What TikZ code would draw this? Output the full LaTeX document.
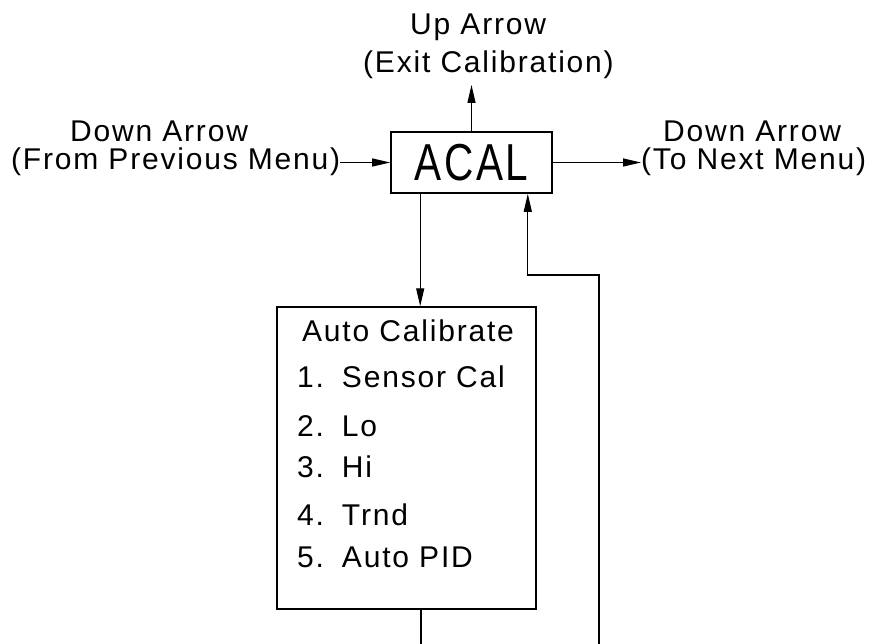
\documentclass[tikz,border=0pt]{standalone}
\usepackage{fontspec}
\setmainfont[LetterSpace=6]{Liberation Sans}
\usetikzlibrary{arrows.meta}
\tikzset{
  lbl/.style={inner sep=0pt, anchor=base west, font=\fontsize{30}{30}\selectfont},
  conn/.style={line width=1.2pt, -{Triangle[length=18pt,width=8pt]}},
  plain/.style={line width=1.2pt},
  boxA/.style={draw, line width=1.6pt, minimum width=161pt, minimum height=61pt, inner sep=0pt},
  boxB/.style={draw, line width=1.4pt, minimum width=259pt, minimum height=302pt, inner sep=0pt}
}
\begin{document}
\begin{tikzpicture}[x=1pt,y=-1pt]
\useasboundingbox (0,0) rectangle (876,644);
% text labels
\node[lbl] (up1) at (410,35) {Up Arrow};
\node[lbl] (up2) at (363,73) {(Exit Calibration)};
\node[lbl] (ldn1) at (70,142) {Down Arrow};
\node[lbl] (ldn2) at (11,170) {(From Previous Menu)};
\node[lbl] (rdn1) at (663,142) {Down Arrow};
\node[lbl] (rdn2) at (641,170) {(To Next Menu)};
% main boxes
\node[boxA] (acal) at (471.5,162.5) {\fontsize{52}{52}\selectfont\scalebox{0.78}[1]{ACAL}};
\node[boxB] (cal) at (406.5,458) {};
\node[lbl] (t0) at (302,342) {Auto Calibrate};
\node[lbl] (t1) at (297,388) {1.\hspace{18pt}Sensor Cal};
\node[lbl] (t2) at (297,436) {2.\hspace{18pt}Lo};
\node[lbl] (t3) at (297,477) {3.\hspace{18pt}Hi};
\node[lbl] (t4) at (297,525) {4.\hspace{18pt}Trnd};
\node[lbl] (t5) at (297,567) {5.\hspace{18pt}Auto PID};
% helper coordinates
\coordinate (exitpt) at (472,85);
\coordinate (bot1) at (421,644);
\coordinate (loopstart) at (599,644);
\coordinate (loopcorner) at (599,275);
% connectors
\draw[conn] (acal.west -| ldn2.east) -- (acal.west);
\draw[conn] (acal.east) -- (acal.east -| rdn2.west);
\draw[conn] (acal.north) -- (acal.north |- exitpt);
\draw[conn] ([xshift=30pt]acal.south west) -- ([xshift=30pt]acal.south west |- cal.north);
\draw[plain] (cal.south -| bot1) -- (bot1);
\draw[conn] (loopstart) -- (loopcorner) -- ([xshift=-25pt]acal.south east |- loopcorner) -- ([xshift=-25pt]acal.south east);
\end{tikzpicture}
\end{document}
